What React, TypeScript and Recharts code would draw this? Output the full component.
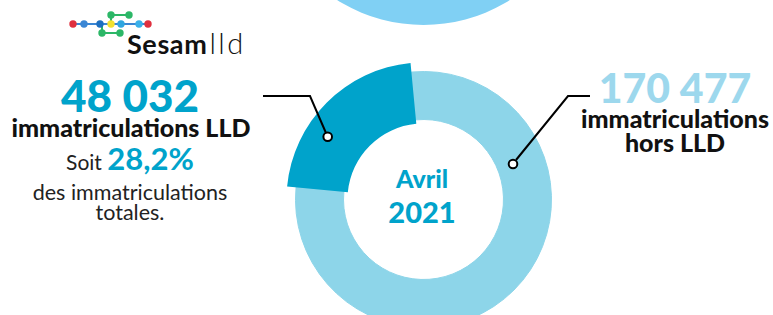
import React from "react";
import { PieChart, Pie, Cell } from "recharts";

const categories = ["immatriculations LLD", "immatriculations hors LLD"];
const values = [48032, 170477];
const shareLabel = "28,2%";
const periodLabel = ["Avril", "2021"];
const previousRing = [{ name: "Mars 2021", value: 1 }];

const data = categories.map((name, i) => ({ name, value: values[i] }));
const total = values.reduce((a, b) => a + b, 0);
const sweep = (values[0] / total) * 360;
const startA = 135 + sweep / 2;

const DARK = "#00a3cb";
const LIGHT = "#8dd5e9";
const TOP = "#80d0f4";
const FONT = "Lato, 'Open Sans', sans-serif";

const fmt = (n: number) => n.toString().replace(/\B(?=(\d{3})+(?!\d))/g, " ");

const abs = (left: number, top: number, width: number, extra: React.CSSProperties = {}): React.CSSProperties => ({
  position: "absolute",
  left,
  top,
  width,
  textAlign: "center",
  fontFamily: FONT,
  whiteSpace: "nowrap",
  ...extra,
});

export default function App() {
  const cx = 418.5;
  const cy = 194.5;
  return (
    <div style={{ position: "absolute", left: 0, top: 0, width: 773, height: 315, background: "#fff", overflow: "hidden" }}>
      <div style={{ position: "absolute", left: 0, top: 0 }}>
        <PieChart width={773} height={315}>
          <Pie
            data={previousRing}
            dataKey="value"
            cx={cx}
            cy={-142}
            innerRadius={0}
            outerRadius={162}
            startAngle={0}
            endAngle={360}
            stroke="none"
            isAnimationActive={false}
          >
            <Cell fill={TOP} />
          </Pie>
          <Pie
            data={data}
            dataKey="value"
            cx={cx}
            cy={cy}
            innerRadius={80}
            outerRadius={128}
            startAngle={startA}
            endAngle={startA - 360}
            isAnimationActive={false}
          >
            {data.map((d) => (
              <Cell key={d.name} fill={LIGHT} stroke={LIGHT} strokeWidth={1} />
            ))}
          </Pie>
          <Pie
            data={data}
            dataKey="value"
            cx={cx}
            cy={cy}
            innerRadius={76}
            outerRadius={137}
            startAngle={startA}
            endAngle={startA - 360}
            isAnimationActive={false}
          >
            {data.map((d, i) => (
              <Cell key={d.name} fill={i === 0 ? DARK : "transparent"} stroke="none" />
            ))}
          </Pie>
        </PieChart>
      </div>

      {/* connectors and logo */}
      <svg width={773} height={315} style={{ position: "absolute", left: 0, top: 0 }}>
        <polyline points="263,96 310,96 326,133" fill="none" stroke="#000" strokeWidth={2} />
        <circle cx={327.7} cy={136.7} r={4.3} fill="#fff" stroke="#000" strokeWidth={2} />
        <polyline points="590,96 568,96 516,160" fill="none" stroke="#000" strokeWidth={2} />
        <circle cx={513} cy={164} r={4.3} fill="#fff" stroke="#000" strokeWidth={2} />
        {/* logo */}
        <line x1={73} y1={24} x2={148} y2={24} stroke="#3a86d4" strokeWidth={2} />
        <line x1={111} y1={15} x2={129} y2={15} stroke="#2cb767" strokeWidth={2} />
        <line x1={102} y1={33} x2={120} y2={33} stroke="#2cb767" strokeWidth={2} />
        <line x1={111} y1={15} x2={111} y2={24} stroke="#2cb767" strokeWidth={2} />
        <line x1={102} y1={33} x2={102} y2={24} stroke="#2cb767" strokeWidth={2} />
        <circle cx={73} cy={24} r={3.7} fill="#e0303f" />
        <circle cx={84} cy={24} r={3.7} fill="#3a86d4" />
        <circle cx={100} cy={24} r={3.7} fill="#1d6fc0" />
        <circle cx={111} cy={24} r={3.7} fill="#f2e230" />
        <circle cx={121} cy={24} r={3.7} fill="#2fa6e0" />
        <circle cx={139} cy={24} r={3.7} fill="#3ab0ea" />
        <circle cx={148} cy={24} r={3.7} fill="#e0303f" />
        <circle cx={111} cy={15} r={3.7} fill="#2cb767" />
        <circle cx={129} cy={15} r={3.7} fill="#2cb767" />
        <circle cx={102} cy={33} r={3.7} fill="#2cb767" />
        <circle cx={120} cy={33} r={3.7} fill="#2cb767" />
      </svg>

      <div style={{ position: "absolute", left: 127, top: 28.5, fontFamily: FONT, fontSize: 27, lineHeight: "27px", color: "#111", whiteSpace: "nowrap" }}>
        <span style={{ fontWeight: 700, letterSpacing: 0.6 }}>Sesam</span>
        <span style={{ fontWeight: 300, fontSize: 29, letterSpacing: 2.5, marginLeft: 2 }}>lld</span>
      </div>

      {/* left block */}
      <div style={abs(30, 72.5, 200, { fontSize: 44, lineHeight: "44px", fontWeight: 900, color: DARK })}>{fmt(values[0])}</div>
      <div style={abs(0, 115.3, 262, { fontSize: 25, lineHeight: "24px", fontWeight: 900, color: "#111" })}>{categories[0]}</div>
      <div style={abs(30, 142.5, 200, { fontSize: 31, lineHeight: "31px", color: "#222" })}>
        <span style={{ fontSize: 21 }}>Soit </span>
        <span style={{ fontWeight: 700, color: DARK }}>{shareLabel}</span>
      </div>
      <div style={abs(10, 182.3, 240, { fontSize: 21.5, lineHeight: "20px", color: "#222" })}>des immatriculations</div>
      <div style={abs(10, 202.3, 240, { fontSize: 21.5, lineHeight: "20px", color: "#222" })}>totales.</div>

      {/* right block */}
      <div style={abs(575, 66.5, 200, { fontSize: 41, lineHeight: "41px", fontWeight: 900, color: "#9dd8ed" })}>{fmt(values[1])}</div>
      <div style={abs(575, 106.3, 200, { fontSize: 25, lineHeight: "24px", fontWeight: 900, color: "#111" })}>immatriculations</div>
      <div style={abs(575, 130.3, 200, { fontSize: 25, lineHeight: "24px", fontWeight: 900, color: "#111" })}>hors LLD</div>

      {/* center */}
      <div style={abs(362, 165.8, 120, { fontSize: 25, lineHeight: "25px", fontWeight: 900, color: DARK })}>{periodLabel[0]}</div>
      <div style={abs(362, 197.3, 120, { fontSize: 29, lineHeight: "29px", fontWeight: 900, color: DARK })}>{periodLabel[1]}</div>
    </div>
  );
}
